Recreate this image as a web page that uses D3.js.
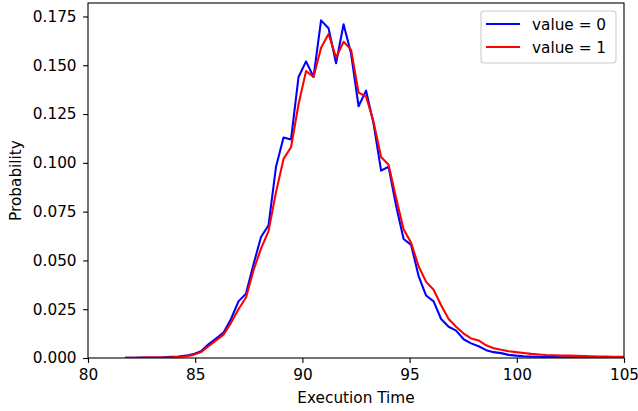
<!DOCTYPE html>
<html>
<head>
<meta charset="utf-8">
<script src="https://cdn.jsdelivr.net/npm/d3@7/dist/d3.min.js"></script>
<style>
  html, body { margin: 0; padding: 0; background: #fff; }
  svg { display: block; }
  text { font-family: "DejaVu Sans", sans-serif; }
</style>
</head>
<body>
<div id="chart"></div>
<script>
// ---- data ----
const executionTime = [81.77, 82.12, 82.47, 82.82, 83.17, 83.52, 83.87, 84.22, 84.57, 84.92,
  85.27, 85.62, 85.97, 86.32, 86.67, 87.02, 87.37, 87.72, 88.07, 88.42,
  88.77, 89.12, 89.47, 89.82, 90.17, 90.52, 90.87, 91.22, 91.57, 91.92,
  92.27, 92.62, 92.97, 93.32, 93.67, 94.02, 94.37, 94.72, 95.07, 95.42,
  95.77, 96.12, 96.47, 96.82, 97.17, 97.52, 97.87, 98.22, 98.57, 98.92,
  99.27, 99.62, 99.97, 100.32, 100.67, 101.02, 101.37, 101.72, 102.07, 102.42,
  102.77, 103.12, 103.47, 103.82, 104.17, 104.52, 104.87, 105.22];

const probValue0 = [0.0001, 0.0001, 0.0002, 0.0002, 0.0003, 0.0004, 0.0006, 0.0008, 0.0012, 0.002,
  0.0035, 0.007, 0.010, 0.013, 0.020, 0.029, 0.033, 0.048, 0.062, 0.068,
  0.098, 0.113, 0.112, 0.144, 0.152, 0.144, 0.173, 0.169, 0.151, 0.171,
  0.156, 0.129, 0.137, 0.120, 0.096, 0.098, 0.078, 0.061, 0.058, 0.042,
  0.032, 0.029, 0.020, 0.016, 0.014, 0.0096, 0.0075, 0.006, 0.004, 0.003,
  0.0025, 0.0016, 0.0012, 0.0009, 0.0007, 0.0006, 0.0005, 0.0005, 0.0004, 0.0004,
  0.0003, 0.0003, 0.0003, 0.0002, 0.0002, 0.0002, 0.0002, 0.0002];

const probValue1 = [0.0001, 0.0001, 0.0001, 0.0002, 0.0002, 0.0003, 0.0004, 0.0006, 0.0009, 0.0016,
  0.003, 0.006, 0.009, 0.012, 0.018, 0.025, 0.031, 0.045, 0.056, 0.065,
  0.085, 0.102, 0.108, 0.130, 0.147, 0.144, 0.159, 0.166, 0.154, 0.162,
  0.158, 0.136, 0.134, 0.121, 0.103, 0.099, 0.082, 0.066, 0.059, 0.047,
  0.039, 0.035, 0.027, 0.020, 0.016, 0.0125, 0.010, 0.009, 0.0065, 0.005,
  0.0042, 0.0035, 0.003, 0.0026, 0.0021, 0.0018, 0.0015, 0.0014, 0.0013, 0.0012,
  0.0011, 0.001, 0.0009, 0.0008, 0.0007, 0.0006, 0.0006, 0.0006];

const seriesNames = ["value = 0", "value = 1"];
const seriesColors = ["#0000ff", "#ff0000"];
const xTicks = [80, 85, 90, 95, 100, 105];
const yTicks = [0, 0.025, 0.05, 0.075, 0.1, 0.125, 0.15, 0.175];

// ---- layout ----
const W = 638, H = 411;
const m = { left: 88, right: 14, top: 3, bottom: 53 };
const iw = W - m.left - m.right, ih = H - m.top - m.bottom;

const svg = d3.select("#chart").append("svg").attr("width", W).attr("height", H);
const g = svg.append("g").attr("transform", `translate(${m.left},${m.top})`);

const x = d3.scaleLinear().domain([80, 105]).range([0, iw]);
const y = d3.scaleLinear().domain([0, 0.1819]).range([ih, 0]);

g.append("clipPath").attr("id", "clip").append("rect").attr("width", iw).attr("height", ih);

const series = [probValue0, probValue1];
const line = d3.line().x((d, i) => x(executionTime[i])).y(d => y(d));

const lines = g.append("g").attr("clip-path", "url(#clip)");
series.forEach((s, k) => {
  lines.append("path").datum(s)
    .attr("d", line)
    .attr("fill", "none")
    .attr("stroke", seriesColors[k])
    .attr("stroke-width", 2.08)
    .attr("stroke-linejoin", "round")
    .attr("stroke-linecap", "square");
});

// axes
const fs = "15.3px";
const xAxis = g.append("g").attr("transform", `translate(0,${ih})`)
  .call(d3.axisBottom(x).tickValues(xTicks).tickFormat(d3.format("d")).tickSize(4.9).tickPadding(6));
const yAxis = g.append("g")
  .call(d3.axisLeft(y).tickValues(yTicks).tickFormat(d3.format(".3f")).tickSize(4.9).tickPadding(6.5));
[xAxis, yAxis].forEach(a => {
  a.select(".domain").remove();
  a.selectAll(".tick line").attr("stroke", "#000").attr("stroke-width", 1.1);
  a.selectAll(".tick text").attr("fill", "#000").style("font-size", fs).style("font-family", "DejaVu Sans");
});

// frame
g.append("rect").attr("width", iw).attr("height", ih)
  .attr("fill", "none").attr("stroke", "#000").attr("stroke-width", 1.1);

// labels
svg.append("text").attr("x", m.left + iw / 2).attr("y", 403)
  .attr("text-anchor", "middle").style("font-size", fs).text("Execution Time");
svg.append("text").attr("transform", `translate(21,${m.top + ih / 2}) rotate(-90)`)
  .attr("text-anchor", "middle").style("font-size", fs).text("Probability");

// legend
const lg = svg.append("g");
lg.append("rect").attr("x", 481).attr("y", 11).attr("width", 135).attr("height", 52)
  .attr("rx", 3).attr("fill", "#fff").attr("fill-opacity", 0.8)
  .attr("stroke", "#cccccc").attr("stroke-width", 1.1);
seriesNames.forEach((n, k) => {
  const yy = 24 + k * 23;
  lg.append("line").attr("x1", 486).attr("x2", 520).attr("y1", yy).attr("y2", yy)
    .attr("stroke", seriesColors[k]).attr("stroke-width", 2.08);
  lg.append("text").attr("x", 532).attr("y", yy + 5.5).style("font-size", fs).text(n);
});
</script>
</body>
</html>
